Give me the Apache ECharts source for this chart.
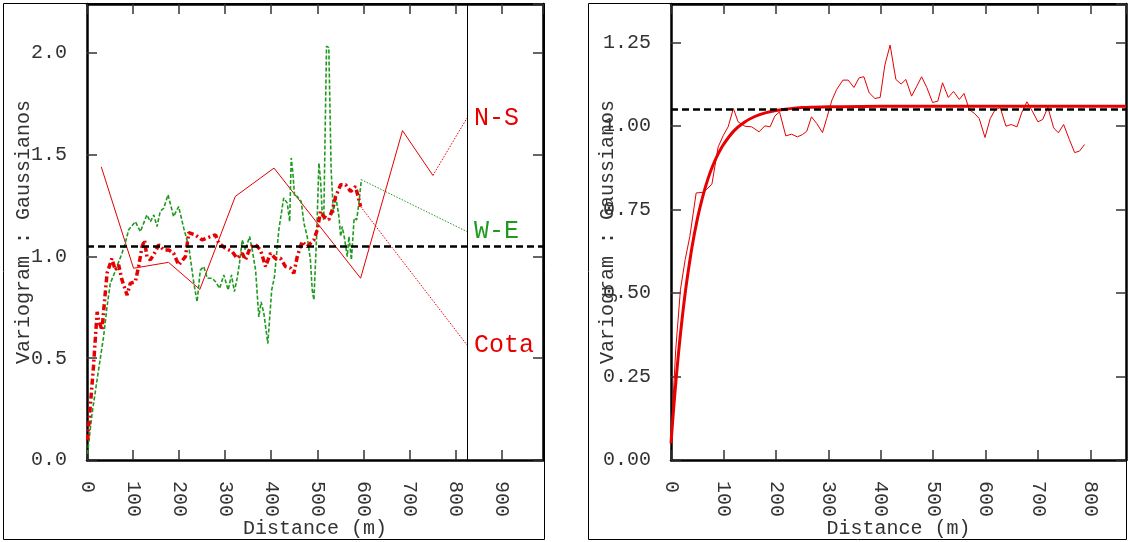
<!DOCTYPE html>
<html><head><meta charset="utf-8">
<script src="https://cdn.jsdelivr.net/npm/echarts@6/dist/echarts.min.js"></script>
<style>html,body{margin:0;padding:0;background:#fff}#c{width:1128px;height:542px}</style>
</head><body><div id="c"></div>
<script>
// ---------- Left panel: directional variograms [distance (m), value] ----------
const nsData = [[31,1.44],[101,0.942],[177,0.971],[245,0.838],[322,1.295],[406,1.434],[594,0.893],[685,1.618],[751,1.398]];
const weData = [[1,0.03],[11,0.228],[25,0.441],[36,0.605],[43.5,0.753],[50.6,0.868],[58,0.909],[65,0.95],[76,1.016],[83,1.065],[90.5,1.131],[105,1.171],[116,1.122],[130,1.204],[137.6,1.171],[145,1.204],[152,1.147],[159,1.221],[166.5,1.237],[176,1.303],[188,1.196],[199,1.245],[210,1.139],[221,1.048],[232,0.868],[239,0.777],[246,0.933],[253.5,0.95],[261,0.893],[272,0.893],[279,0.876],[288,0.843],[297,0.909],[300.7,0.917],[306.5,0.835],[313.7,0.909],[320,0.827],[326,0.893],[331,0.966],[337,1.081],[344,1.032],[353,1.098],[358.7,1.032],[366,0.933],[373,0.703],[378,0.777],[384,0.72],[392.6,0.572],[401,0.835],[407,0.9],[416.5,1.131],[427,1.287],[434.8,1.262],[440,1.171],[443.4,1.484],[447,1.41],[450.7,1.295],[456.5,1.295],[465,1.27],[471,1.163],[478,1.098],[485,0.983],[489,0.835],[492.6,0.786],[498.5,1.098],[503.5,1.459],[507,1.377],[511,1.196],[514,1.18],[520,2.033],[525,2.026],[530,1.426],[535,1.213],[540,1.295],[547,1.196],[550.7,1.098],[554,1.147],[559,1.09],[565,0.999],[568.7,1.098],[574,0.983],[580,1.188],[585.4,1.18],[590.4,1.262],[595.6,1.377]];
const cotaData = [[1.3,0.096],[7,0.26],[14,0.457],[22,0.728],[25,0.687],[32.6,0.638],[36,0.728],[43.5,0.917],[54,0.99],[61.5,0.933],[68.7,0.958],[76,0.884],[87,0.81],[94,0.868],[105,0.876],[112,0.95],[119.6,1.048],[125,1.08],[130,0.999],[137.6,0.983],[148.5,1.024],[155.7,1.057],[166.5,1.032],[177.4,1.032],[188,1.016],[199,0.958],[213.7,0.999],[221,1.117],[235,1.106],[250,1.081],[264,1.094],[279,1.106],[286,1.065],[300.7,1.04],[315,1.024],[326,0.991],[337,1.016],[344,0.983],[355,1.048],[366,1.057],[376.7,1.032],[387.6,0.95],[398.5,1.016],[409,0.99],[420,0.991],[431,0.95],[442,0.942],[449,0.917],[456.5,0.999],[467,1.073],[478,1.048],[492.6,1.081],[500,1.131],[507,1.221],[514,1.196],[525,1.18],[532.6,1.229],[540,1.295],[550.7,1.352],[561.5,1.352],[572.4,1.319],[583,1.344],[590.4,1.278],[594,1.245]];
const labelX = 825;                       // distance of the label guide line
const labelNames = ['N-S', 'W-E', 'Cota'];
const labelValues = [1.68, 1.122, 0.565];  // where each dotted guide ends
const sillLeft = 1.05;
const leftXTicks = [0,100,200,300,400,500,600,700,800,900];
const leftYTicks = ['0.0','0.5','1.0','1.5','2.0'];

// ---------- Right panel: experimental variogram and fitted model ----------
const expData = [[0,0.06],[9,0.33],[18,0.51],[27,0.6],[36,0.67],[48,0.8],[62,0.802],[78,0.826],[90,0.938],[100,0.973],[109,0.998],[119,1.053],[128,1.013],[141,1.0],[154,0.998],[168,0.983],[179,1.001],[189,0.998],[198,1.03],[207,1.043],[219,0.971],[230,0.976],[241,0.968],[251,0.975],[259,0.985],[268,1.028],[278,1.008],[289,0.981],[297,1.023],[307,1.078],[316,1.11],[328,1.138],[338,1.138],[349,1.116],[359,1.145],[368,1.148],[378,1.1],[389,1.083],[399,1.086],[408,1.183],[418,1.243],[429,1.14],[439,1.126],[448,1.14],[459,1.09],[469,1.12],[478,1.148],[488,1.116],[499,1.071],[509,1.075],[518,1.13],[529,1.086],[539,1.104],[550,1.08],[559,1.098],[569,1.05],[579,1.038],[588,1.023],[599,0.966],[609,1.023],[618,1.048],[628,1.056],[639,1.0],[649,1.005],[660,0.998],[669,1.04],[679,1.073],[690,1.043],[700,1.013],[709,1.02],[719,1.056],[730,0.995],[739,0.98],[749,1.005],[760,0.96],[770,0.921],[779,0.925],[789,0.945]];
const modelData = [[0,0.05],[5,0.154],[10,0.247],[15,0.331],[20,0.406],[25,0.474],[30,0.534],[40,0.637],[50,0.72],[60,0.786],[70,0.84],[80,0.883],[90,0.917],[100,0.945],[120,0.986],[140,1.012],[160,1.029],[180,1.04],[200,1.047],[250,1.056],[300,1.058],[400,1.06],[868,1.06]];
const sillRight = 1.05;
const rightXTicks = [0,100,200,300,400,500,600,700,800];
const rightYTicks = ['0.00','0.25','0.50','0.75','1.00','1.25'];

const FONT = 'Liberation Mono';
const TXT = '#333';
const RED = '#e60000';
const GREEN = '#1f9a1f';

function axisLine(){ return {show:true, onZero:false, lineStyle:{color:'#000', width:2.5}}; }
function axisTick(){ return {show:true, inside:true, length:10, lineStyle:{color:'#333', width:1.5}}; }
const nameStyle = {fontFamily:FONT, fontSize:20, color:TXT};

function xAxes(grid, max, ticks){
  return [
    {gridIndex:grid, type:'value', min:0, max:max, interval:100, position:'bottom',
     axisLine:axisLine(), axisTick:axisTick(), splitLine:{show:false},
     axisLabel:{rotate:-90, margin:21, fontFamily:FONT, fontSize:20, color:TXT, showMaxLabel:false, hideOverlap:false,
       formatter:v => ticks.includes(v) ? String(v) : ''},
     name:'Distance (m)', nameLocation:'middle', nameGap:59, nameMoveOverlap:false, nameTextStyle:nameStyle},
    {gridIndex:grid, type:'value', min:0, max:max, interval:100, position:'top',
     axisLine:axisLine(), axisTick:axisTick(), splitLine:{show:false}, axisLabel:{show:false}}
  ];
}
function yAxes(grid, max, step, labels){
  return [
    {gridIndex:grid, type:'value', min:0, max:max, interval:step, position:'left',
     axisLine:axisLine(), axisTick:axisTick(), splitLine:{show:false},
     axisLabel:{margin:20, fontFamily:FONT, fontSize:20, color:TXT, showMaxLabel:false, hideOverlap:false,
       formatter:v => { const i = Math.round(v/step); return (Math.abs(i*step - v) < 1e-9 && labels[i]) ? labels[i] : ''; }},
     name:'Variogram : Gaussianos', nameLocation:'middle', nameGap:53, nameMoveOverlap:false, nameTextStyle:nameStyle},
    {gridIndex:grid, type:'value', min:0, max:max, interval:step, position:'right',
     axisLine:axisLine(), axisTick:axisTick(), splitLine:{show:false}, axisLabel:{show:false}}
  ];
}

const leftSeries = [nsData, weData, cotaData];
const tailColors = [RED, GREEN, RED];
const tails = leftSeries.map((d, i) => ({
  type:'line', xAxisIndex:0, yAxisIndex:0, symbol:'none', silent:true, z:1,
  data:[d[d.length-1], [labelX, labelValues[i]]],
  lineStyle:{color:tailColors[i], width:1, type:[1.5,1.5]},
  endLabel:{show:true, formatter:labelNames[i], distance:7, fontFamily:FONT, fontSize:25, color:tailColors[i]}
}));

const option = {
  animation:false,
  backgroundColor:'#fff',
  grid:[
    {left:87, right:585, top:4, bottom:82, outerBoundsMode:'none'},
    {left:671, right:2, top:4, bottom:82, outerBoundsMode:'none'}
  ],
  xAxis:[...xAxes(0, 990, leftXTicks), ...xAxes(1, 868, rightXTicks)],
  yAxis:[...yAxes(0, 2.24, 0.5, leftYTicks), ...yAxes(1, 1.366, 0.25, rightYTicks)],
  graphic:[
    {type:'rect', shape:{x:3.5, y:3.5, width:541, height:536}, style:{fill:'none', stroke:'#000', lineWidth:1}, silent:true, z:-1},
    {type:'rect', shape:{x:588.5, y:3.5, width:538, height:536}, style:{fill:'none', stroke:'#000', lineWidth:1}, silent:true, z:-1}
  ],
  series:[
    {type:'line', xAxisIndex:0, yAxisIndex:0, data:nsData, symbol:'none', z:2,
     lineStyle:{color:RED, width:1}},
    {type:'line', xAxisIndex:0, yAxisIndex:0, data:weData, symbol:'none', z:3,
     lineStyle:{color:GREEN, width:1.6, type:[4,2]}},
    {type:'line', xAxisIndex:0, yAxisIndex:0, data:cotaData, symbol:'none', z:4,
     lineStyle:{color:RED, width:3.5, type:[6,3,2,3]},
     markLine:{silent:true, symbol:'none', label:{show:false}, animation:false,
       data:[
         {yAxis:sillLeft, lineStyle:{color:'#000', width:2.5, type:[7,4]}},
         {xAxis:labelX, lineStyle:{color:'#000', width:1, type:'solid'}}
       ]}},
    ...tails,
    {type:'line', xAxisIndex:2, yAxisIndex:2, data:expData, symbol:'none', z:2,
     lineStyle:{color:RED, width:1}},
    {type:'line', xAxisIndex:2, yAxisIndex:2, data:modelData, symbol:'none', smooth:0.3, z:3,
     lineStyle:{color:RED, width:3},
     markLine:{silent:true, symbol:'none', label:{show:false}, animation:false,
       data:[{yAxis:sillRight, lineStyle:{color:'#000', width:2.5, type:[7,4]}}]}}
  ]
};
const chart = echarts.init(document.getElementById('c'), null, {renderer:'canvas'});
chart.setOption(option);
</script></body></html>
